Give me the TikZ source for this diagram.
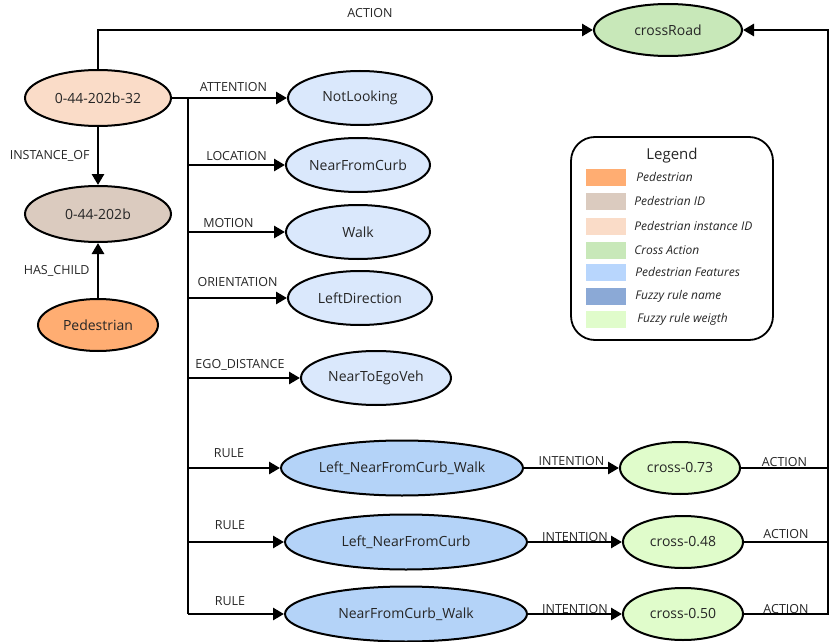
\documentclass[tikz,border=0pt]{standalone}
\usepackage{fontspec}
\setmainfont{Open Sans}
\usepackage{tikz}
\usetikzlibrary{positioning,arrows.meta,shapes.geometric}

\definecolor{pedcol}{HTML}{FFAD72}
\definecolor{idcol}{HTML}{DBCBBF}
\definecolor{instcol}{HTML}{FADCC8}
\definecolor{crosscol}{HTML}{C8E8B9}
\definecolor{featcol}{HTML}{DAE8FC}
\definecolor{featleg}{HTML}{B8D6FD}
\definecolor{rulecol}{HTML}{B4D3F8}
\definecolor{ruleleg}{HTML}{8BA9D6}
\definecolor{weightcol}{HTML}{E0FCCB}

\begin{document}
\begin{tikzpicture}[
    x=1pt, y=-1pt,
    ell/.style={ellipse, draw, line width=2pt, inner sep=0pt, minimum height=54pt, minimum width=146pt, font=\fontsize{14}{16}\selectfont, text=black!85},
    ped/.style={ell, fill=pedcol, minimum width=120pt, minimum height=52pt},
    pid/.style={ell, fill=idcol, minimum height=56pt},
    inst/.style={ell, fill=instcol, minimum height=56pt},
    act/.style={ell, fill=crosscol, minimum width=148pt, minimum height=52pt},
    feat/.style={ell, fill=featcol, minimum width=144pt},
    rule/.style={ell, fill=rulecol, minimum width=242pt, minimum height=55pt},
    weight/.style={ell, fill=weightcol, minimum width=120pt, minimum height=52pt},
    lbl/.style={font=\fontsize{12.5}{14}\selectfont, text=black!85, inner sep=1pt},
    line/.style={line width=2.8pt},
    arr/.style={line, -{Triangle[length=11pt,width=12pt]}},
    swatch/.style={minimum width=40pt, minimum height=17pt, inner sep=0pt},
    legtext/.style={font=\fontsize{12}{13}\selectfont\itshape, text=black!85, anchor=west, inner sep=0pt}
]
\useasboundingbox (0,0) rectangle (831,642);

% Pedestrian hierarchy
\node[inst] (inst) at (98,98) {0-44-202b-32};
\node[pid] (pid) at (98,214) {0-44-202b};
\node[ped] (ped) at (98,325) {Pedestrian};
\node[act] (road) at (668,30) {crossRoad};
\draw[arr] (inst) -- node[lbl, left=6pt] {INSTANCE\_OF} (pid);
\draw[arr] (ped) -- node[lbl, left=6pt] {HAS\_CHILD} (pid);
\draw[arr] (inst.north) |- (road.west);
\node[lbl] (toplbl) at (370,13) {ACTION};

% Pedestrian features
\node[feat] (look) at (360,98) {NotLooking};
\node[feat] (curb) at (358,165) {NearFromCurb};
\node[feat] (walk) at (358,232) {Walk};
\node[feat] (dir) at (360,298) {LeftDirection};
\node[feat, minimum width=150pt] (ego) at (376,378) {NearToEgoVeh};

% Fuzzy rules and weights
\node[rule] (r1) at (402,468) {Left\_NearFromCurb\_Walk};
\node[rule] (r2) at (406,542) {Left\_NearFromCurb};
\node[rule] (r3) at (406,614) {NearFromCurb\_Walk};
\node[weight] (w1) at (680,468) {cross-0.73};
\node[weight] (w2) at (683,542) {cross-0.48};
\node[weight] (w3) at (683,614) {cross-0.50};

% Left bus
\coordinate (bus) at (188,98);
\coordinate (busend) at (188,614);
\draw[line] (inst.east) -- (bus) -- (busend);
\draw[arr] (bus) -- node[lbl, above=4pt, xshift=-4pt] {ATTENTION} (look);
\draw[arr] (bus |- curb) -- node[lbl, above=2pt] {LOCATION} (curb);
\draw[arr] (bus |- walk) -- node[lbl, above=2pt, xshift=-8pt] {MOTION} (walk);
\draw[arr] (bus |- dir) -- node[lbl, above=9pt] {ORIENTATION} (dir);
\draw[arr] (bus |- ego) -- node[lbl, above=5pt, xshift=-4pt] {EGO\_DISTANCE} (ego);
\draw[arr] (bus |- r1) -- node[lbl, above=8pt, xshift=-5pt] {RULE} (r1);
\draw[arr] (bus |- r2) -- node[lbl, above=10pt, xshift=-6pt] {RULE} (r2);
\draw[arr] (busend) -- node[lbl, above=6pt, xshift=-6pt] {RULE} (r3);

% Intentions
\draw[arr] (r1) -- node[lbl, above=0pt] {INTENTION} (w1);
\draw[arr] (r2) -- node[lbl, above=-2pt] {INTENTION} (w2);
\draw[arr] (r3) -- node[lbl, above=-2pt] {INTENTION} (w3);

% Right bus back to the action
\coordinate (rbus) at (828,30);
\draw[line] (w1) -- node[lbl, above=-1pt] {ACTION} (rbus |- w1);
\draw[line] (w2) -- node[lbl, above=1pt] {ACTION} (rbus |- w2);
\draw[arr] (w3) -- node[lbl, above=-2pt] {ACTION} (rbus |- w3) -- (rbus) -- (road.east);

% Legend
\node[draw, line width=1.8pt, rounded corners=24pt, minimum width=202pt, minimum height=203pt] (legend) at (672,238.5) {};
\node[font=\fontsize{15}{17}\selectfont, text=black!85] (legtitle) at (672,156) {Legend};
\node[swatch, fill=pedcol] (s1) at (606,177) {};
\node[swatch, fill=idcol] (s2) at (606,201) {};
\node[swatch, fill=instcol] (s3) at (606,226) {};
\node[swatch, fill=crosscol] (s4) at (606,250) {};
\node[swatch, fill=featleg] (s5) at (606,272) {};
\node[swatch, fill=ruleleg] (s6) at (606,296) {};
\node[swatch, fill=weightcol] (s7) at (606,319) {};
\node[legtext, right=10pt of s1] {Pedestrian};
\node[legtext, right=8pt of s2] {Pedestrian ID};
\node[legtext, right=8pt of s3] {Pedestrian instance ID};
\node[legtext, right=8pt of s4] {Cross Action};
\node[legtext, right=9pt of s5] {Pedestrian Features};
\node[legtext, right=9pt of s6] {Fuzzy rule name};
\node[legtext, right=11pt of s7] {Fuzzy rule weigth};
\end{tikzpicture}
\end{document}
